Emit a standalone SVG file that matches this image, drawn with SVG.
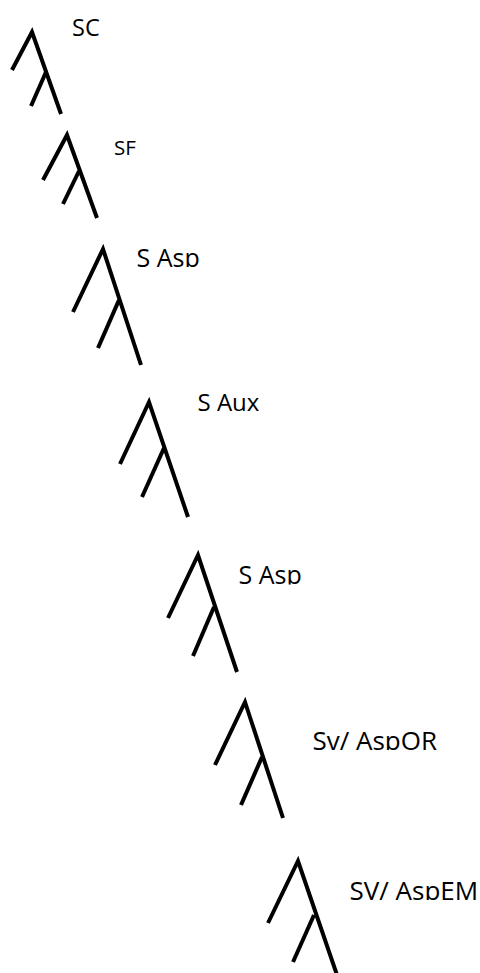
<svg xmlns="http://www.w3.org/2000/svg" width="480" height="973" viewBox="0 0 480 973">
<style>
.t{fill:none;stroke:#000;stroke-width:4;stroke-linejoin:miter;stroke-linecap:butt}
.l{font-family:"Open Sans","Noto Sans",sans-serif;fill:#000}
</style>
<defs>
<clipPath id="c3"><rect x="100" y="230" width="200" height="37"/></clipPath>
<clipPath id="c5"><rect x="200" y="540" width="200" height="44.5"/></clipPath>
<clipPath id="c6"><rect x="280" y="700" width="200" height="50"/></clipPath>
<clipPath id="c7"><rect x="320" y="860" width="160" height="40"/></clipPath>
</defs>
<rect width="480" height="973" fill="#fff"/>
<g id="tree-sc">
<polyline class="t" points="12,70 32,32 61,114"/>
<line class="t" x1="46" y1="72" x2="31" y2="106"/>
<text class="l" x="72" y="35.5" font-size="23.5">SC</text>
</g>
<g id="tree-sf">
<polyline class="t" points="43,180 67,135 97,218"/>
<line class="t" x1="79" y1="171" x2="63" y2="204"/>
<text class="l" x="114" y="155" font-size="20.5">SF</text>
</g>
<g id="tree-sasp1">
<polyline class="t" points="73,312 103,249 141,365"/>
<line class="t" x1="119" y1="300" x2="98" y2="348"/>
<text class="l" x="136.5" y="266.5" font-size="25" clip-path="url(#c3)">S Asp</text>
</g>
<g id="tree-saux">
<polyline class="t" points="120,464 149,402 188,517"/>
<line class="t" x1="164" y1="448" x2="142" y2="497"/>
<text class="l" x="197.5" y="411" font-size="24">S Aux</text>
</g>
<g id="tree-sasp2">
<polyline class="t" points="168,618 198,555 237,672"/>
<line class="t" x1="214" y1="607" x2="193" y2="656"/>
<text class="l" x="238.5" y="584" font-size="25" clip-path="url(#c5)">S Asp</text>
</g>
<g id="tree-aspor">
<polyline class="t" points="215,765 245,702 283,818"/>
<line class="t" x1="262" y1="757" x2="241" y2="805"/>
<text class="l" x="312.5" y="749.5" font-size="26" clip-path="url(#c6)">Sv/ AspOR</text>
</g>
<g id="tree-aspem">
<polyline class="t" points="268,923 298,861 337,975"/>
<line class="t" x1="314" y1="915" x2="293" y2="962"/>
<text class="l" x="349.5" y="899.5" font-size="26" clip-path="url(#c7)">SV/ AspEM</text>
</g>
</svg>
